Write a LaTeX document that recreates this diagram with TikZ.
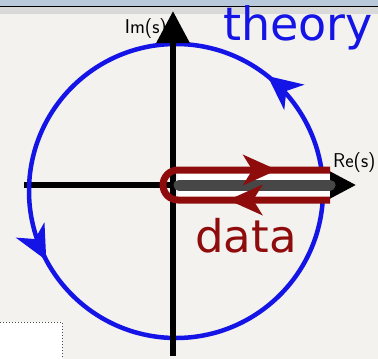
\documentclass[tikz,border=0pt]{standalone}
\usepackage{fontspec}
\usepackage{tikz}
\usetikzlibrary{positioning, arrows.meta, decorations.markings}
\newfontfamily\handfont{DejaVu Sans}
\definecolor{plane-paper}{HTML}{F3F2EF}
\definecolor{plane-sky}{HTML}{B9C9DC}
\definecolor{plane-band}{HTML}{D9D9D9}
\definecolor{theory-blue}{HTML}{1414E6}
\definecolor{data-red}{HTML}{8E0C0C}
\definecolor{cut-gray}{HTML}{474747}

\begin{document}
\begin{tikzpicture}[x=1pt, y=-1pt,
        axis/.style={line width=6pt, -{Triangle[length=32pt, width=32pt]}},
        theoryline/.style={theory-blue, line width=4.5pt},
        dataline/.style={data-red, line width=7pt},
        tip/.style={font=\sffamily\fontsize{20}{20}\selectfont, text=black, inner sep=0pt}]
    \useasboundingbox (0,0) rectangle (378,359);
    % screen background
    \fill[plane-paper] (0,0) rectangle (378,359);
    \fill[plane-sky] (0,0) rectangle (378,6);
    \fill[plane-band] (0,7) rectangle (378,14);
    \draw[line width=1.2pt] (0,6.5) -- (378,6.5);
    \fill[white] (0,322) rectangle (62,359);
    \draw[black!70, dotted, line width=1pt] (0,322) -- (62,322) -- (62,359);

    \coordinate (origin) at (173,185);
    \coordinate (center) at (176,191);
    \coordinate (cut-end) at (330,185);

    \draw[axis] (24,185) coordinate (re-start) -- (356,185) coordinate (re-tip);
    % big contour of the theory side
    \draw[theoryline, decoration={markings,
            mark=at position 0.143 with {\arrow{Stealth[length=34pt, width=32pt, inset=10pt]}},
            mark=at position 0.578 with {\arrow{Stealth[length=34pt, width=32pt, inset=10pt]}}},
        postaction=decorate]
        ([xshift=147pt]center) arc[start angle=0, end angle=-360, radius=147];
    \draw[axis] (173,356) coordinate (im-start) -- (173,11) coordinate (im-tip);

    % cut along the positive real axis
    \fill[white] (178,172) rectangle (330,198);
    \draw[cut-gray, line width=11pt, line cap=round] (origin) ++(6,0) -- (cut-end);
    \draw[dataline, decoration={markings,
            mark=at position 0.29 with {\arrow{Stealth[length=34pt, width=30pt, inset=9pt]}},
            mark=at position 0.85 with {\arrow{Stealth[length=34pt, width=30pt, inset=9pt]}}},
        postaction=decorate]
        (330,200) -- (178,200) arc[start angle=90, end angle=270, radius=15] -- (330,170);

    \node[tip, anchor=east] (im-label) at (167,29) {Im(s)};
    \node[tip, anchor=west] (re-label) at (333,163) {Re(s)};
    \node[font=\handfont\fontsize{46}{46}\selectfont, text=theory-blue, inner sep=0pt]
        (theory) at (298,28) {theory};
    \node[font=\handfont\fontsize{45}{45}\selectfont, text=data-red, inner sep=0pt]
        (data) at (246,236) {data};
\end{tikzpicture}
\end{document}
